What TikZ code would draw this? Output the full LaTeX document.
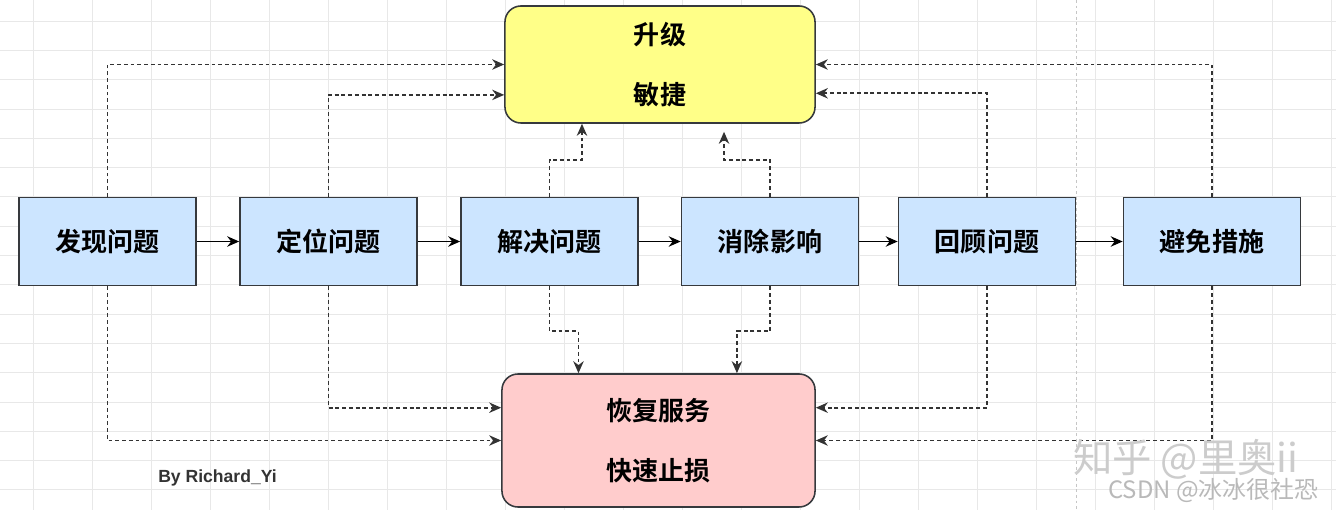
\documentclass[tikz,border=0pt]{standalone}
\usepackage{fontspec}
\setmainfont{Noto Sans CJK SC}[BoldFont=* Bold]
\newfontfamily\arialfont{Liberation Sans}
\usepackage{xcolor}
\usetikzlibrary{arrows.meta}
\usetikzlibrary{positioning}

\definecolor{stepblue}{HTML}{CCE5FF}
\definecolor{upyellow}{HTML}{FFFF88}
\definecolor{fixpink}{HTML}{FFCCCC}
\definecolor{edgegray}{HTML}{36393D}

\begin{document}
\begin{tikzpicture}[x=0.025cm, y=-0.025cm,
		stepbox/.style={draw=edgegray, line width=1.1pt, fill=stepblue, minimum width=4.425cm, minimum height=2.2cm, font=\bfseries\fontsize{18.5}{22}\selectfont},
		goalbox/.style={draw=edgegray, line width=1.1pt, rounded corners=0.4cm, align=center, font=\bfseries\fontsize{18.5}{42.7}\selectfont},
		flow/.style={-{Stealth[length=3mm,width=2.6mm]}, line width=1.2pt, black},
		back/.style={-{Stealth[length=3mm,width=2.6mm]}, line width=1.2pt, black!80, dash pattern=on 2.8pt off 2pt}]
		\useasboundingbox (0,0) rectangle (1336,510);
		\fill[white] (0,0) rectangle (1336,510);
		% grid
		\foreach \gx in {33,92,...,1336} {
			\draw[gray!18, line width=0.5pt] (\gx,0) -- (\gx,510);
		}
		\foreach \gy in {21,50.3,...,510} {
			\draw[gray!18, line width=0.5pt] (0,\gy) -- (1336,\gy);
		}
		\draw[gray!45, dash pattern=on 2pt off 2pt, line width=0.6pt] (1076,0) -- (1076,510);
		% goals
		\node[goalbox, fill=upyellow, minimum width=7.75cm, minimum height=2.925cm] (upgrade) at (660,64.5) {升级\\敏捷};
		\node[goalbox, fill=fixpink, minimum width=7.825cm, minimum height=3.325cm] (recover) at (658.5,440.5) {恢复服务\\快速止损};
		% steps
		\node[stepbox] (find) at (107.5,241.5) {发现问题};
		\node[stepbox] (locate) at (328.5,241.5) {定位问题};
		\node[stepbox] (solve) at (549.5,241.5) {解决问题};
		\node[stepbox] (clear) at (770,241.5) {消除影响};
		\node[stepbox] (review) at (987,241.5) {回顾问题};
		\node[stepbox] (avoid) at (1212,241.5) {避免措施};
		\foreach \a/\b in {find/locate, locate/solve, solve/clear, clear/review, review/avoid} {
			\draw[flow] (\a) -- (\b);
		}
		% up to upgrade
		\draw[back] (find.north) |- (upgrade.west);
		\draw[back] (locate.north) |- ([yshift=-0.76cm]upgrade.west);
		\draw[back] (avoid.north) |- (upgrade.east);
		\draw[back] (review.north) |- ([yshift=-0.72cm]upgrade.east);
		\draw[back] (solve.north) -- ++(0,-37) -| ([xshift=-1.95cm]upgrade.south);
		\draw[back] (clear.north) -- ++(0,-37) -| ([xshift=1.6cm,yshift=-0.2cm]upgrade.south);
		% down to recover
		\draw[back] (find.south) |- (recover.west);
		\draw[back] (locate.south) |- ([yshift=0.82cm]recover.west);
		\draw[back] (avoid.south) |- (recover.east);
		\draw[back] (review.south) |- ([yshift=0.82cm]recover.east);
		\draw[back] (solve.south) -- ++(0,45) -| ([xshift=-2cm]recover.north);
		\draw[back] (clear.south) -- ++(0,45) -| ([xshift=1.96cm]recover.north);
		% texts
		\node[font=\arialfont\bfseries\fontsize{12.5}{14}\selectfont, text=black!80, anchor=west, inner sep=0] (author) at (158,478) {By Richard\_Yi};
		\node[font=\fontsize{28}{30}\selectfont, text=gray!40, anchor=west, inner sep=0] (zhihu) at (1073,459) {知乎 @里奥ii};
		\node[font=\fontsize{17}{19}\selectfont, text=gray!55, anchor=west, inner sep=0] (csdn) at (1108,490) {CSDN @冰冰很社恐};
	\end{tikzpicture}
\end{document}
